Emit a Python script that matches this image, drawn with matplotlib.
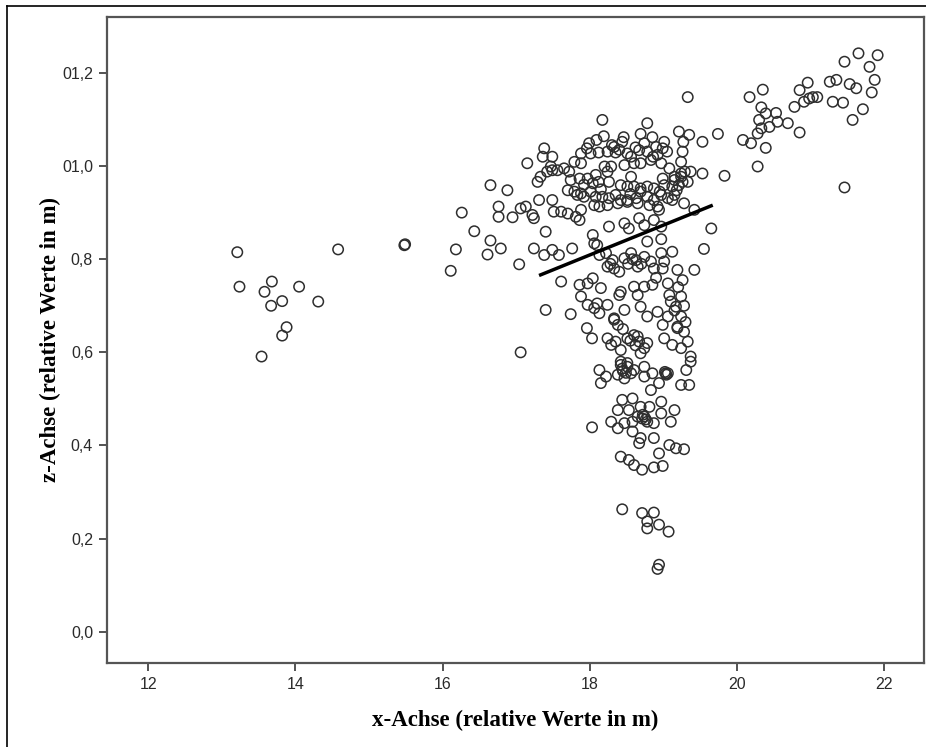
import matplotlib
matplotlib.use("Agg")
import matplotlib.pyplot as plt
from matplotlib.lines import Line2D

# outer left group (x in m, z in m)
x_left = [13.21, 13.24, 13.68, 13.58, 13.82, 13.67, 14.05, 14.31, 13.88, 13.82, 13.54,
          14.58, 15.48, 15.49, 16.26, 16.43, 16.18, 16.11, 16.65, 16.61, 16.76, 16.76,
          16.65, 17.06, 16.88, 16.79, 17.04]
z_left = [0.815, 0.741, 0.752, 0.730, 0.710, 0.700, 0.741, 0.709, 0.654, 0.636, 0.591,
          0.821, 0.830, 0.832, 0.900, 0.860, 0.821, 0.775, 0.840, 0.810, 0.913, 0.891,
          0.959, 0.600, 0.948, 0.823, 0.789]

# upper right group
x_right = [19.33, 20.17, 20.35, 20.33, 20.39, 20.53, 20.55, 20.44, 20.30, 20.33, 20.28,
           20.19, 20.39, 20.08, 20.69, 20.85, 20.28, 20.78, 20.85, 20.96, 20.91, 20.98,
           21.03, 21.09, 21.26, 21.35, 21.30, 21.44, 21.53, 21.62, 21.57, 21.71, 21.46,
           21.65, 21.80, 21.91, 21.87, 21.83, 21.46, 19.83, 19.74]
z_right = [1.148, 1.148, 1.164, 1.126, 1.113, 1.114, 1.095, 1.084, 1.099, 1.081, 1.070,
           1.049, 1.039, 1.056, 1.092, 1.072, 0.999, 1.127, 1.163, 1.179, 1.138, 1.145,
           1.148, 1.148, 1.181, 1.185, 1.138, 1.136, 1.176, 1.167, 1.099, 1.122, 1.224,
           1.242, 1.213, 1.238, 1.185, 1.158, 0.954, 0.979, 1.069]

# main cloud, upper part (z > 0.85)
x_top = [18.17, 18.78, 19.21, 19.35, 19.27, 19.53, 18.19, 18.09, 17.99, 17.96,
         18.46, 18.44, 18.33, 18.35, 18.24, 18.12, 18.01, 17.88,
         18.69, 18.74, 18.85, 18.67, 18.78, 18.90, 18.99, 19.01, 19.05, 18.92, 18.83, 18.97,
         19.26, 19.24, 19.29, 19.37, 19.24, 19.26, 19.15, 19.12, 19.21, 19.33, 19.53,
         17.38, 17.36, 17.49, 17.15, 17.47,
         17.65, 17.72, 17.79, 17.88, 17.74, 17.86, 17.97, 18.08, 18.20, 18.29, 18.24, 18.12, 18.04,
         17.42, 17.49, 17.56, 17.33, 17.29,
         18.47, 18.56, 18.60, 18.69, 18.51,
         18.56, 18.42, 18.51, 18.60, 18.69, 18.78, 18.87, 18.99, 19.01, 19.15, 19.24, 18.26,
         17.70, 17.79, 17.83, 17.88, 17.92, 18.01, 18.08, 18.17, 18.26, 18.35, 18.42, 18.51,
         18.63, 18.69, 18.78, 18.87, 18.97, 19.06, 19.15,
         16.95, 17.06, 17.13, 17.22, 17.24, 17.31, 17.49, 17.51, 17.61, 17.70, 17.81, 17.88,
         17.86, 18.06, 18.13, 18.24, 18.38, 18.51, 18.65, 18.81, 18.92, 18.94, 19.12, 19.28,
         19.42, 19.65,
         18.26, 18.47, 18.53, 18.67, 18.74, 18.87, 18.97, 18.04, 17.40,
         18.30, 18.40, 18.62, 18.86, 19.08, 17.92, 18.15, 18.95, 19.18, 18.55]
z_top = [1.099, 1.092, 1.074, 1.067, 1.052, 1.052, 1.064, 1.056, 1.049, 1.038,
         1.062, 1.052, 1.041, 1.029, 1.031, 1.029, 1.027, 1.027,
         1.069, 1.049, 1.062, 1.034, 1.031, 1.041, 1.038, 1.052, 1.031, 1.024, 1.013, 1.006,
         1.031, 1.009, 0.988, 0.988, 0.977, 0.966, 0.970, 0.956, 0.959, 0.966, 0.984,
         1.038, 1.020, 1.020, 1.006, 0.999,
         0.995, 0.988, 1.009, 1.006, 0.970, 0.973, 0.973, 0.981, 0.999, 0.999, 0.988, 0.966, 0.963,
         0.988, 0.991, 0.991, 0.977, 0.966,
         1.002, 1.020, 1.006, 1.006, 1.027,
         0.977, 0.959, 0.956, 0.956, 0.952, 0.956, 0.952, 0.973, 0.959, 0.977, 0.984, 0.966,
         0.948, 0.945, 0.938, 0.941, 0.934, 0.945, 0.934, 0.934, 0.931, 0.938, 0.927, 0.927,
         0.931, 0.945, 0.934, 0.927, 0.938, 0.931, 0.938,
         0.890, 0.909, 0.913, 0.895, 0.888, 0.927, 0.927, 0.902, 0.902, 0.898, 0.891, 0.906,
         0.884, 0.916, 0.913, 0.916, 0.920, 0.923, 0.920, 0.916, 0.913, 0.906, 0.927, 0.920,
         0.906, 0.866,
         0.870, 0.877, 0.866, 0.888, 0.873, 0.884, 0.870, 0.852, 0.859,
         1.045, 1.035, 1.040, 1.020, 0.995, 0.960, 0.950, 0.945, 0.948, 0.940]

# main cloud, middle part (0.58 < z < 0.85)
x_mid = [17.61, 17.40, 17.74, 17.24, 17.38, 17.49, 17.58, 17.76, 18.06, 18.10,
         18.13, 18.22, 18.31, 18.24, 18.33, 18.40, 18.47, 18.56, 18.63, 18.65, 18.74, 18.83,
         18.87, 18.97, 19.01, 18.99, 19.12, 18.78, 18.97, 19.19, 19.26, 19.42, 19.55,
         17.86, 17.97, 18.04, 18.15, 17.88, 17.97, 18.06, 18.13, 18.10, 18.24, 18.42, 18.40,
         18.60, 18.65, 18.74, 18.85, 18.69, 18.78, 18.92, 19.06, 19.08, 19.10, 19.24, 19.17,
         19.24, 19.06, 18.99, 18.47, 18.33, 18.38,
         18.24, 18.29, 18.35, 18.42, 18.51, 18.60, 18.67, 18.74, 18.69, 18.78, 19.01, 19.12,
         19.19, 19.28, 19.24, 19.33, 19.37, 18.42, 18.51, 17.96, 18.03,
         18.55, 18.62, 18.58, 18.52, 18.28, 18.65, 18.33, 19.19, 19.20, 19.15, 19.28, 19.30,
         18.70, 18.90, 18.45]
z_mid = [0.752, 0.691, 0.682, 0.823, 0.809, 0.820, 0.809, 0.823, 0.834, 0.830,
         0.809, 0.813, 0.798, 0.784, 0.780, 0.773, 0.802, 0.813, 0.798, 0.784, 0.805, 0.795,
         0.780, 0.813, 0.795, 0.780, 0.816, 0.838, 0.843, 0.777, 0.755, 0.777, 0.822,
         0.745, 0.748, 0.759, 0.738, 0.720, 0.702, 0.695, 0.684, 0.705, 0.702, 0.730, 0.723,
         0.741, 0.723, 0.741, 0.745, 0.698, 0.677, 0.687, 0.748, 0.723, 0.709, 0.720, 0.698,
         0.677, 0.677, 0.659, 0.691, 0.673, 0.659,
         0.630, 0.616, 0.623, 0.605, 0.630, 0.637, 0.623, 0.609, 0.598, 0.620, 0.630, 0.616,
         0.652, 0.644, 0.609, 0.623, 0.591, 0.580, 0.577, 0.652, 0.630,
         0.625, 0.615, 0.800, 0.790, 0.790, 0.634, 0.670, 0.655, 0.740, 0.690, 0.700, 0.665,
         0.790, 0.760, 0.650]

# main cloud, lower part (z < 0.58)
x_low = [18.13, 18.15, 18.22, 18.38, 18.42, 18.51, 18.47, 18.56, 18.60, 18.74, 18.74,
         18.83, 18.85, 18.94, 19.03, 19.06, 19.31, 19.37, 19.24, 19.35,
         18.44, 18.58, 18.38, 18.53, 18.69, 18.81, 18.97, 18.29, 18.38, 18.47, 18.58, 18.65,
         18.74, 18.78, 18.87, 18.97, 19.15, 19.10, 18.58, 18.69, 18.67, 18.87, 18.03,
         18.42, 18.53, 18.60, 18.71, 18.87, 18.99, 18.94, 19.08, 19.17, 19.28,
         18.44, 18.71, 18.87, 18.78, 18.78, 18.94, 19.07, 18.94, 18.92,
         19.02, 19.04, 18.71, 18.76, 18.72, 18.45, 18.49, 18.44]
z_low = [0.562, 0.534, 0.548, 0.552, 0.573, 0.569, 0.544, 0.555, 0.562, 0.569, 0.548,
         0.519, 0.555, 0.534, 0.555, 0.555, 0.562, 0.580, 0.530, 0.530,
         0.498, 0.501, 0.476, 0.476, 0.483, 0.483, 0.494, 0.451, 0.437, 0.448, 0.451, 0.462,
         0.462, 0.451, 0.448, 0.469, 0.476, 0.451, 0.430, 0.416, 0.405, 0.416, 0.439,
         0.376, 0.369, 0.358, 0.348, 0.353, 0.356, 0.383, 0.401, 0.394, 0.392,
         0.263, 0.255, 0.256, 0.237, 0.222, 0.230, 0.215, 0.144, 0.135,
         0.558, 0.552, 0.458, 0.456, 0.466, 0.560, 0.556, 0.565]

# fitted line end points
line_x = [17.31, 19.67]
line_z = [0.765, 0.916]

x_ticks = [12, 14, 16, 18, 20, 22]
z_ticks = [0.0, 0.2, 0.4, 0.6, 0.8, 1.0, 1.2]
z_tick_labels = ["0,0", "0,2", "0,4", "0,6", "0,8", "01,0", "01,2"]

fig = plt.figure(figsize=(9.26, 7.47), dpi=100)
ax = fig.add_axes([107 / 926, 84 / 747, 817 / 926, 646 / 747])

xs = x_left + x_right + x_top + x_mid + x_low
zs = z_left + z_right + z_top + z_mid + z_low
ax.scatter(xs, zs, s=56, facecolors="none", edgecolors="#2e2e2e", linewidths=1.1, zorder=2)
ax.plot(line_x, line_z, color="black", linewidth=2.5, solid_capstyle="butt", zorder=3)

ax.set_xlim(11.44, 22.54)
ax.set_ylim(-0.067, 1.32)
ax.set_xticks(x_ticks)
ax.set_xticklabels([str(t) for t in x_ticks])
ax.set_yticks(z_ticks)
ax.set_yticklabels(z_tick_labels)

for side in ["left", "bottom", "right", "top"]:
    ax.spines[side].set_color("#555555")
    ax.spines[side].set_linewidth(1.6)
ax.tick_params(direction="out", length=6, width=1.3, color="#444444",
               labelsize=11.5, labelcolor="#2a2a2a", pad=4)
for lab in ax.get_xticklabels() + ax.get_yticklabels():
    lab.set_family(["Liberation Sans", "DejaVu Sans"])

ax.set_xlabel("x-Achse (relative Werte in m)", family="Liberation Serif",
              fontweight="bold", fontsize=16.5, labelpad=13)
ax.set_ylabel("z-Achse (relative Werte in m)", family="Liberation Serif",
              fontweight="bold", fontsize=16.5, labelpad=1)

# outer frame lines of the original screenshot
fig.add_artist(Line2D([7 / 926, 1.0], [1 - 6 / 747, 1 - 6 / 747],
                      transform=fig.transFigure, color="black", linewidth=1.2))
fig.add_artist(Line2D([7 / 926, 7 / 926], [0.0, 1 - 6 / 747],
                      transform=fig.transFigure, color="black", linewidth=1.2))

fig.savefig("out.png", dpi=100)
